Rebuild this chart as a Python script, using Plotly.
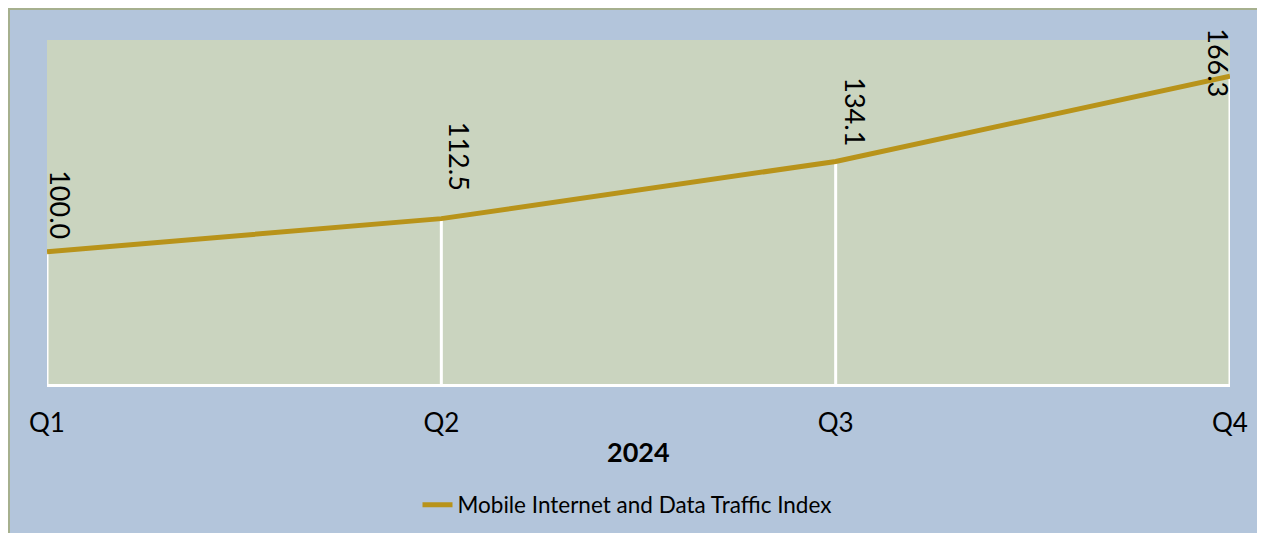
import plotly.graph_objects as go

# Data
quarters = ["Q1", "Q2", "Q3", "Q4"]
index_values = [100.0, 112.5, 134.1, 166.3]
series_name = "Mobile Internet and Data Traffic Index"
year_label = "2024"

Y_MIN, Y_MAX = 50, 180
LINE_COLOR = "#B8931A"
FONT = "Lato"

fig = go.Figure()

# white drop lines from each point to the axis
drop_x, drop_y = [], []
for q, v in zip(quarters, index_values):
    drop_x += [q, q, None]
    drop_y += [Y_MIN, v, None]
fig.add_trace(go.Scatter(x=drop_x, y=drop_y, mode="lines",
                         line=dict(color="white", width=3),
                         showlegend=False, hoverinfo="skip"))

fig.add_trace(go.Scatter(x=quarters, y=index_values, mode="lines",
                         name=series_name,
                         line=dict(color=LINE_COLOR, width=5)))

# rotated data labels
n = len(quarters)
label_yshift = [11, 26, 13, 14]
for i, (q, v) in enumerate(zip(quarters, index_values)):
    last = i == n - 1
    first = i == 0
    fig.add_annotation(
        x=q, y=v, xref="x", yref="y",
        text=f"{v:.1f}", textangle=90, showarrow=False,
        font=dict(family=FONT, size=27, color="black"),
        xanchor="center",
        yanchor="middle" if last else "bottom",
        xshift=-11 if last else (14 if first else 19),
        yshift=label_yshift[i],
    )

# layout geometry (figure pixels; page shows figure at an 8px offset)
W, H = 1300, 533
L, T = 39, 32
R = W - 1222
B = H - 376
pw, ph = W - L - R, H - T - B


def px_x(p):
    return (p - L) / pw


def px_y(p):
    return (H - B - p) / ph


# year title
fig.add_annotation(x=0.5, y=px_y(443), xref="paper", yref="paper",
                   text=f"<b>{year_label}</b>", showarrow=False,
                   font=dict(family=FONT, size=27, color="black"),
                   xanchor="center", yanchor="middle")

# thin border along the figure's top and left edges
shapes = [
    dict(type="line", xref="paper", yref="paper", x0=px_x(0), x1=px_x(W + 5),
         y0=px_y(1), y1=px_y(1), line=dict(color="#A6B08E", width=2)),
    dict(type="line", xref="paper", yref="paper", x0=px_x(1), x1=px_x(1),
         y0=px_y(0), y1=px_y(H + 5), line=dict(color="#A6B08E", width=2)),
]

fig.update_layout(
    width=W, height=H,
    margin=dict(l=L, r=R, t=T, b=B),
    paper_bgcolor="#B3C5DB",
    plot_bgcolor="#CAD4BF",
    font=dict(family=FONT, color="black"),
    shapes=shapes,
    showlegend=True,
    legend=dict(orientation="h", x=px_x(619), xanchor="center", y=px_y(497), yanchor="middle",
                font=dict(family=FONT, size=22.5, color="black"),
                bgcolor="rgba(0,0,0,0)"),
    xaxis=dict(type="category", range=[0, n - 1], showgrid=False, zeroline=False,
               showline=True, linecolor="white", linewidth=3,
               ticks="", ticklabelstandoff=14,
               tickfont=dict(family=FONT, size=26, color="black")),
    yaxis=dict(range=[Y_MIN, Y_MAX], showgrid=False, zeroline=False,
               showticklabels=False, showline=False, ticks=""),
)

fig.write_html(
    "out.html",
    default_width=f"{W}px",
    default_height=f"{H}px",
    post_script="document.documentElement.style.overflow='hidden';"
                "document.body.style.overflow='hidden';",
)
